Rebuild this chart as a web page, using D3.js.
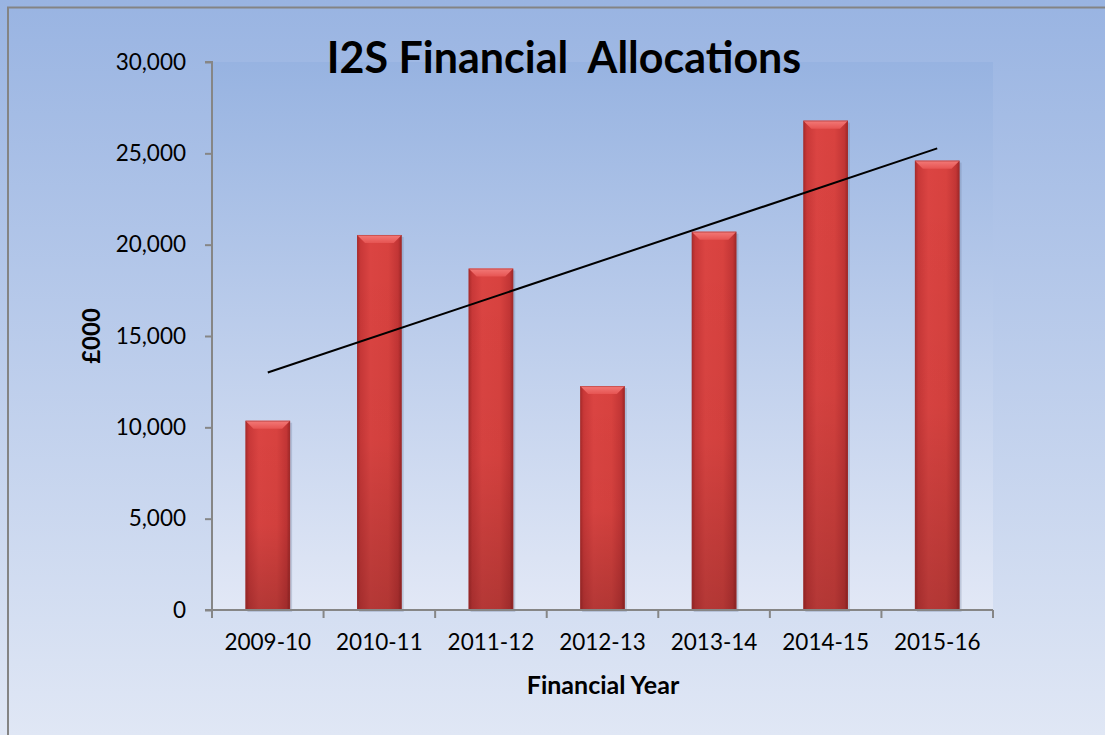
<!DOCTYPE html>
<html>
<head>
<meta charset="utf-8">
<script src="https://cdn.jsdelivr.net/npm/d3@7"></script>
<style>
  html, body { margin: 0; padding: 0; background: #fff; }
  svg { display: block; font-family: Lato, "Open Sans", sans-serif; }
</style>
</head>
<body>
<svg id="chart" width="1105" height="735"></svg>
<script>
const years = ['2009-10', '2010-11', '2011-12', '2012-13', '2013-14', '2014-15', '2015-16'];
const allocations = [10360, 20530, 18690, 12260, 20710, 26790, 24600];
const yTicks = [0, 5000, 10000, 15000, 20000, 25000, 30000];

const plot = {left: 212, right: 993, top: 62, bottom: 610};

const svg = d3.select('#chart');
const defs = svg.append('defs');

// background gradients
const bg = defs.append('linearGradient').attr('id', 'bg')
  .attr('x1', 0).attr('y1', 0).attr('x2', 0).attr('y2', 1);
bg.append('stop').attr('offset', '0%').attr('stop-color', '#99b4e2');
bg.append('stop').attr('offset', '100%').attr('stop-color', '#e0e7f5');

const plotBg = defs.append('linearGradient').attr('id', 'plotBg')
  .attr('x1', 0).attr('y1', 0).attr('x2', 0).attr('y2', 1);
plotBg.append('stop').attr('offset', '0%').attr('stop-color', '#97b3e1');
plotBg.append('stop').attr('offset', '100%').attr('stop-color', '#e2e8f6');

// bar shading
const barH = defs.append('linearGradient').attr('id', 'barH')
  .attr('x1', 0).attr('y1', 0).attr('x2', 1).attr('y2', 0);
[['0%', '#a82a2a'], ['8%', '#c93838'], ['30%', '#db4442'], ['70%', '#d8423f'], ['92%', '#c23535'], ['100%', '#9c2626']]
  .forEach(([o, c]) => barH.append('stop').attr('offset', o).attr('stop-color', c));

const barV = defs.append('linearGradient').attr('id', 'barV')
  .attr('x1', 0).attr('y1', 0).attr('x2', 0).attr('y2', 1);
barV.append('stop').attr('offset', '0%').attr('stop-color', '#000').attr('stop-opacity', 0);
barV.append('stop').attr('offset', '55%').attr('stop-color', '#000').attr('stop-opacity', 0.03);
barV.append('stop').attr('offset', '100%').attr('stop-color', '#000').attr('stop-opacity', 0.18);

const bevel = defs.append('linearGradient').attr('id', 'bevel')
  .attr('x1', 0).attr('y1', 0).attr('x2', 0).attr('y2', 1);
bevel.append('stop').attr('offset', '0%').attr('stop-color', '#f37a78');
bevel.append('stop').attr('offset', '100%').attr('stop-color', '#e65452');

svg.append('rect')
  .attr('x', 0).attr('y', 0).attr('width', 1105).attr('height', 735)
  .attr('fill', 'url(#bg)');
// frame of the chart area (only top and left edges visible)
svg.append('path')
  .attr('d', 'M8,740 L8,7.5 L1110,7.5')
  .attr('fill', 'none').attr('stroke', '#848484').attr('stroke-width', 2);

svg.append('rect')
  .attr('x', plot.left).attr('y', plot.top)
  .attr('width', plot.right - plot.left).attr('height', plot.bottom - plot.top)
  .attr('fill', 'url(#plotBg)');

const x = d3.scaleBand()
  .domain(years)
  .range([plot.left, plot.right])
  .paddingInner(0.6)
  .paddingOuter(0.3);
const xBand = d3.scaleBand().domain(years).range([plot.left, plot.right]);

const y = d3.scaleLinear()
  .domain([0, 30000])
  .range([plot.bottom, plot.top]);

// bars
const bars = svg.append('g').selectAll('g')
  .data(years.map((yr, i) => ({year: yr, value: allocations[i]})))
  .join('g');

bars.append('rect')
  .attr('x', d => x(d.year) + 2).attr('y', d => y(d.value) + 2)
  .attr('width', x.bandwidth()).attr('height', d => y(0) - y(d.value))
  .attr('fill', '#5a6b8a').attr('opacity', 0.25);
bars.append('rect')
  .attr('x', d => x(d.year)).attr('y', d => y(d.value))
  .attr('width', x.bandwidth()).attr('height', d => y(0) - y(d.value))
  .attr('fill', 'url(#barH)');
bars.append('rect')
  .attr('x', d => x(d.year)).attr('y', d => y(d.value))
  .attr('width', x.bandwidth()).attr('height', d => y(0) - y(d.value))
  .attr('fill', 'url(#barV)');
bars.append('path')
  .attr('d', d => {
    const x0 = x(d.year), x1 = x0 + x.bandwidth(), t = y(d.value), b = 8;
    return `M${x0},${t} L${x1},${t} L${x1 - b},${t + b} L${x0 + b},${t + b} Z`;
  })
  .attr('fill', 'url(#bevel)');
bars.append('rect')
  .attr('x', d => x(d.year) + 0.5).attr('y', d => y(d.value) + 0.5)
  .attr('width', x.bandwidth() - 1).attr('height', d => y(0) - y(d.value) - 1)
  .attr('fill', 'none').attr('stroke', '#a53030').attr('stroke-opacity', 0.5);

// linear trend line (least squares over category index)
const n = allocations.length;
const xs = d3.range(1, n + 1);
const mx = d3.mean(xs), my = d3.mean(allocations);
const slope = d3.sum(xs, (v, i) => (v - mx) * (allocations[i] - my)) / d3.sum(xs, v => (v - mx) ** 2);
const icpt = my - slope * mx;
const cx = i => x(years[i]) + x.bandwidth() / 2;
svg.append('line')
  .attr('x1', cx(0)).attr('y1', y(icpt + slope * 1))
  .attr('x2', cx(n - 1)).attr('y2', y(icpt + slope * n))
  .attr('stroke', '#000').attr('stroke-width', 2);

// axes
const yAxis = d3.axisLeft(y)
  .tickValues(yTicks)
  .tickSize(7)
  .tickPadding(19)
  .tickFormat(d3.format(','));
const yG = svg.append('g')
  .attr('transform', `translate(${plot.left},0)`)
  .call(yAxis);

const xAxis = d3.axisBottom(xBand).tickSize(0).tickPadding(24);
const xG = svg.append('g')
  .attr('transform', `translate(0,${plot.bottom})`)
  .call(xAxis);
// category boundary ticks
xG.selectAll('.bound')
  .data(d3.range(n + 1))
  .join('line')
  .attr('class', 'bound')
  .attr('x1', i => plot.left + i * xBand.step())
  .attr('x2', i => plot.left + i * xBand.step())
  .attr('y1', 0).attr('y2', 8);

[yG, xG].forEach(g => {
  g.selectAll('.domain').attr('stroke', '#868686').attr('stroke-width', 2);
  g.selectAll('line').attr('stroke', '#868686').attr('stroke-width', 2);
  g.selectAll('text')
    .attr('fill', '#000')
    .style('font-family', 'Lato, sans-serif')
    .style('font-size', '22.5px');
});
yG.select('.domain').attr('d', `M-7,${plot.top}H0V${plot.bottom}H-7`);
xG.select('.domain').attr('d', `M${plot.left},0H${plot.right}`);

// titles
svg.append('text')
  .attr('x', 564).attr('y', 73)
  .attr('text-anchor', 'middle')
  .attr('xml:space', 'preserve')
  .style('font-weight', 'bold').style('font-size', '43px')
  .text('I2S Financial  Allocations');

svg.append('text')
  .attr('x', 603).attr('y', 694)
  .attr('text-anchor', 'middle')
  .style('font-weight', 'bold').style('font-size', '25px')
  .text('Financial Year');

svg.append('text')
  .attr('transform', 'translate(100,336) rotate(-90)')
  .attr('text-anchor', 'middle')
  .style('font-weight', 'bold').style('font-size', '24px')
  .text('£000');
</script>
</body>
</html>
